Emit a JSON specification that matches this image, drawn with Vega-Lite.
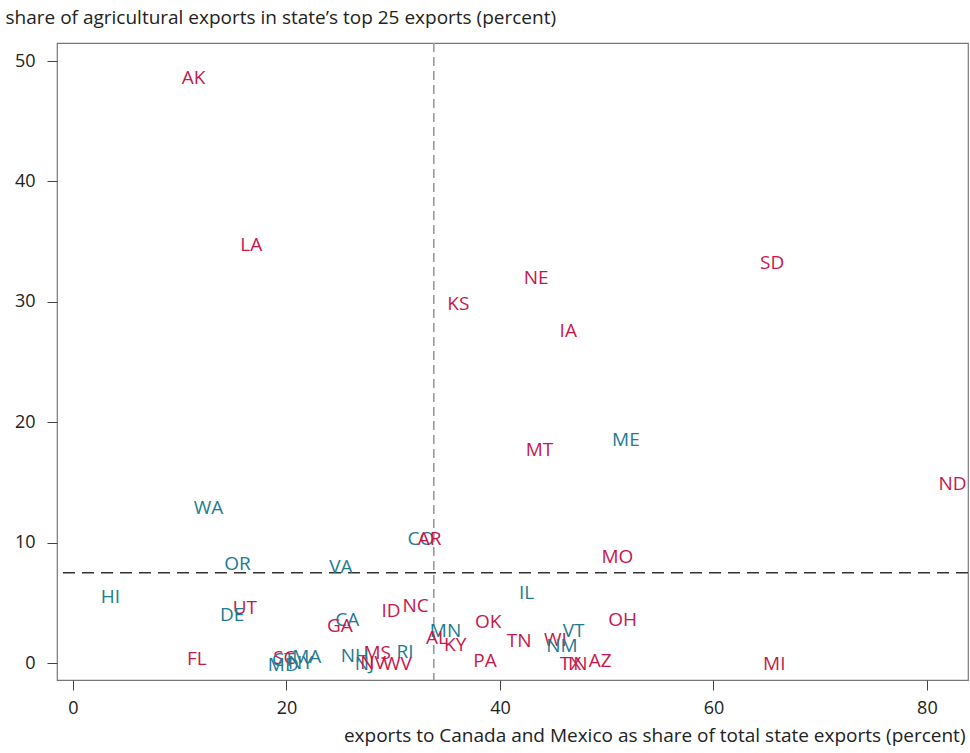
{
  "$schema": "https://vega.github.io/schema/vega-lite/v6.json",
  "width": 911,
  "height": 637,
  "autosize": {"type": "none"},
  "padding": {"left": 57, "top": 43, "right": 2, "bottom": 73},
  "background": "white",
  "config": {
    "view": {"stroke": "#777", "strokeWidth": 1.2},
    "font": "Open Sans",
    "axis": {"grid": false, "domain": false, "tickColor": "#444", "tickSize": 10, "labelFont": "Open Sans", "labelFontSize": 18, "labelColor": "#222", "titleFont": "Open Sans", "titleFontSize": 19, "titleFontWeight": "normal", "titleColor": "#222"}
  },
  "datasets": {
    "states": [
      {"state": "AK", "canmex": 11.3, "ag": 48.6, "grp": "red"},
      {"state": "LA", "canmex": 16.7, "ag": 34.7, "grp": "red"},
      {"state": "SD", "canmex": 65.5, "ag": 33.2, "grp": "red"},
      {"state": "NE", "canmex": 43.4, "ag": 32.0, "grp": "red"},
      {"state": "KS", "canmex": 36.1, "ag": 29.8, "grp": "red"},
      {"state": "IA", "canmex": 46.4, "ag": 27.6, "grp": "red"},
      {"state": "MT", "canmex": 43.7, "ag": 17.7, "grp": "red"},
      {"state": "ME", "canmex": 51.8, "ag": 18.5, "grp": "teal"},
      {"state": "ND", "canmex": 82.4, "ag": 14.9, "grp": "red"},
      {"state": "WA", "canmex": 12.7, "ag": 12.9, "grp": "teal"},
      {"state": "CO", "canmex": 32.6, "ag": 10.3, "grp": "teal"},
      {"state": "AR", "canmex": 33.4, "ag": 10.3, "grp": "red"},
      {"state": "MO", "canmex": 51.0, "ag": 8.8, "grp": "red"},
      {"state": "OR", "canmex": 15.4, "ag": 8.2, "grp": "teal"},
      {"state": "VA", "canmex": 25.1, "ag": 8.0, "grp": "teal"},
      {"state": "HI", "canmex": 3.5, "ag": 5.5, "grp": "teal"},
      {"state": "IL", "canmex": 42.5, "ag": 5.8, "grp": "teal"},
      {"state": "UT", "canmex": 16.1, "ag": 4.55, "grp": "red"},
      {"state": "DE", "canmex": 14.9, "ag": 4.0, "grp": "teal"},
      {"state": "NC", "canmex": 32.1, "ag": 4.7, "grp": "red"},
      {"state": "ID", "canmex": 29.8, "ag": 4.3, "grp": "red"},
      {"state": "CA", "canmex": 25.7, "ag": 3.6, "grp": "teal"},
      {"state": "GA", "canmex": 25.0, "ag": 3.1, "grp": "red"},
      {"state": "OK", "canmex": 38.9, "ag": 3.4, "grp": "red"},
      {"state": "OH", "canmex": 51.5, "ag": 3.6, "grp": "red"},
      {"state": "MN", "canmex": 34.9, "ag": 2.7, "grp": "teal"},
      {"state": "VT", "canmex": 46.9, "ag": 2.7, "grp": "teal"},
      {"state": "AL", "canmex": 34.1, "ag": 2.1, "grp": "red"},
      {"state": "TN", "canmex": 41.8, "ag": 1.8, "grp": "red"},
      {"state": "WI", "canmex": 45.2, "ag": 1.9, "grp": "red"},
      {"state": "KY", "canmex": 35.8, "ag": 1.5, "grp": "red"},
      {"state": "NM", "canmex": 45.8, "ag": 1.4, "grp": "teal"},
      {"state": "RI", "canmex": 31.1, "ag": 0.9, "grp": "teal"},
      {"state": "MS", "canmex": 28.5, "ag": 0.8, "grp": "red"},
      {"state": "NH", "canmex": 26.4, "ag": 0.6, "grp": "teal"},
      {"state": "PA", "canmex": 38.6, "ag": 0.2, "grp": "red"},
      {"state": "AZ", "canmex": 49.4, "ag": 0.2, "grp": "red"},
      {"state": "FL", "canmex": 11.6, "ag": 0.3, "grp": "red"},
      {"state": "TX", "canmex": 46.6, "ag": -0.1, "grp": "red"},
      {"state": "IN", "canmex": 47.3, "ag": -0.1, "grp": "red"},
      {"state": "MI", "canmex": 65.7, "ag": -0.1, "grp": "red"},
      {"state": "SC", "canmex": 19.8, "ag": 0.4, "grp": "red"},
      {"state": "CT", "canmex": 19.7, "ag": 0.23, "grp": "teal"},
      {"state": "MA", "canmex": 21.9, "ag": 0.5, "grp": "teal"},
      {"state": "MD", "canmex": 19.7, "ag": -0.2, "grp": "teal"},
      {"state": "NY", "canmex": 21.3, "ag": 0.0, "grp": "teal"},
      {"state": "NJ", "canmex": 27.3, "ag": -0.1, "grp": "teal"},
      {"state": "NV", "canmex": 28.1, "ag": 0.0, "grp": "red"},
      {"state": "WV", "canmex": 30.4, "ag": -0.1, "grp": "red"}
    ],
    "vline": [{"canmex": 33.8}],
    "hline": [{"ag": 7.5}]
  },
  "layer": [
    {
      "data": {"name": "vline"},
      "mark": {"type": "rule", "color": "#999", "strokeWidth": 1.6, "strokeDash": [9, 5]},
      "encoding": {
        "x": {"field": "canmex", "type": "quantitative", "scale": {"domain": [-1.5, 83.85], "nice": false, "zero": false}}
      }
    },
    {
      "data": {"name": "hline"},
      "mark": {"type": "rule", "color": "#333", "strokeWidth": 1.5, "strokeDash": [12, 7]},
      "encoding": {
        "y": {"field": "ag", "type": "quantitative", "scale": {"domain": [-1.41, 51.5], "nice": false, "zero": false}}
      }
    },
    {
      "data": {"name": "states"},
      "mark": {"type": "text", "fontSize": 19, "font": "Open Sans", "align": "center", "baseline": "middle"},
      "encoding": {
        "x": {"field": "canmex", "type": "quantitative", "scale": {"domain": [-1.5, 83.85], "nice": false, "zero": false},
          "axis": {"values": [0, 20, 40, 60, 80], "labelPadding": 9, "title": "exports to Canada and Mexico as share of total state exports (percent)", "titleAlign": "right", "titleBaseline": "alphabetic", "titleX": 908, "titleY": 61}},
        "y": {"field": "ag", "type": "quantitative", "scale": {"domain": [-1.41, 51.5], "nice": false, "zero": false},
          "axis": {"values": [0, 10, 20, 30, 40, 50], "labelPadding": 12, "title": "share of agricultural exports in state’s top 25 exports (percent)", "titleAngle": 0, "titleAlign": "left", "titleBaseline": "alphabetic", "titleX": -52, "titleY": -20}},
        "text": {"field": "state"},
        "color": {"field": "grp", "type": "nominal", "scale": {"domain": ["red", "teal"], "range": ["#c8174b", "#1f7b8f"]}, "legend": null}
      }
    }
  ]
}
